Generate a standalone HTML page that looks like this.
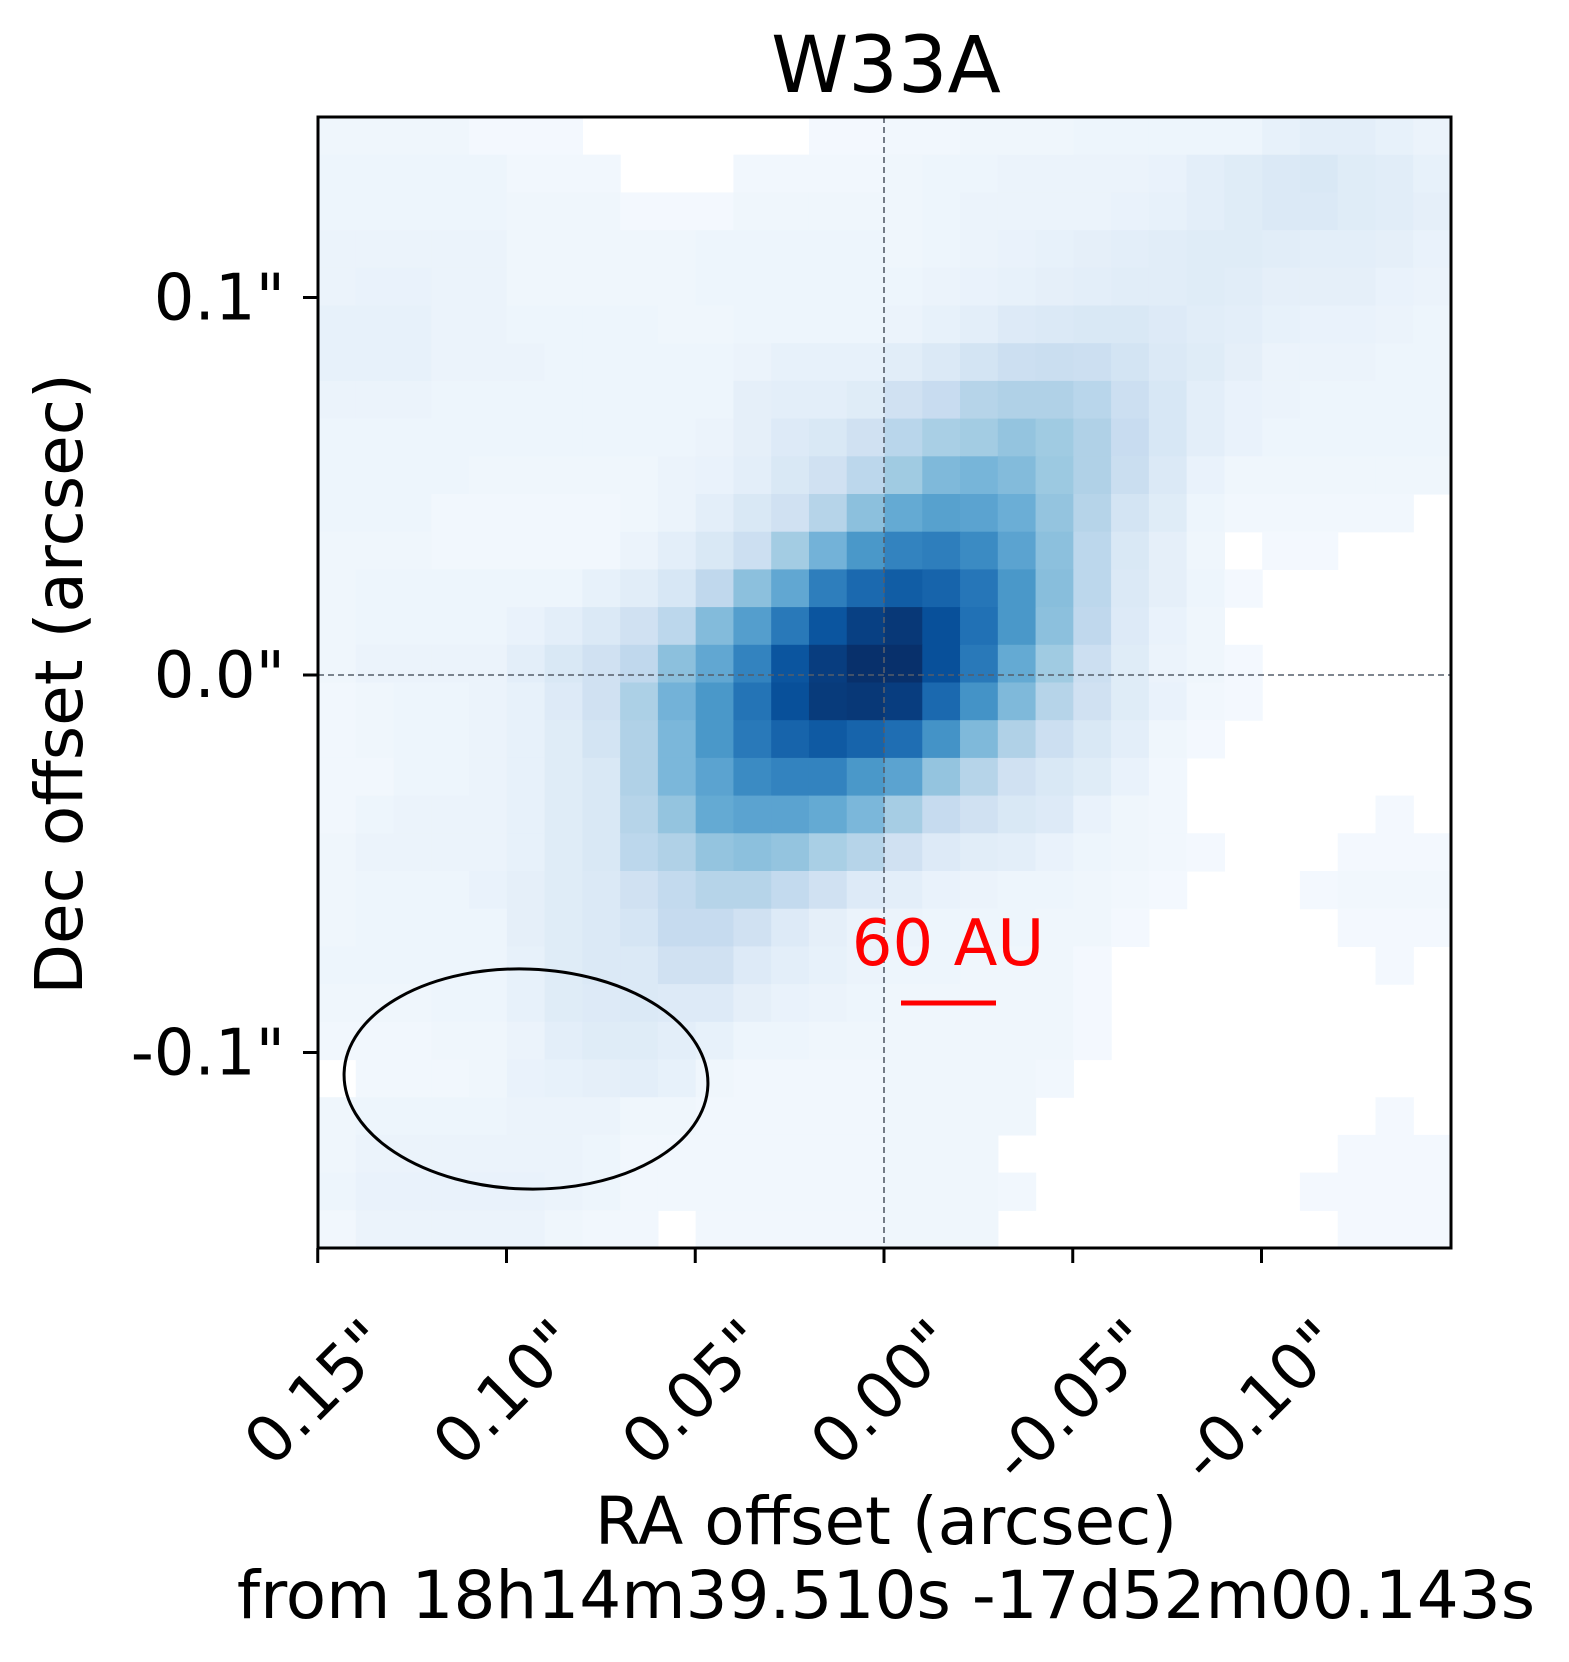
<!DOCTYPE html>
<html><head><meta charset="utf-8"><style>
html,body{margin:0;padding:0;background:#fff;}
svg{display:block;font-family:"DejaVu Sans","Liberation Sans",sans-serif;}
</style></head><body>
<svg id="chart" width="1569" height="1662" viewBox="0 0 1569 1662" xmlns="http://www.w3.org/2000/svg">
<g id="cells"></g>
<line x1="884" y1="117" x2="884" y2="1248" stroke="#555e6a" stroke-width="1.6" stroke-dasharray="6,4"/>
<line x1="318" y1="675" x2="1451" y2="675" stroke="#555e6a" stroke-width="1.6" stroke-dasharray="6,4"/>
<ellipse cx="526" cy="1079" rx="182" ry="110" transform="rotate(2 526 1079)" fill="none" stroke="#000" stroke-width="3"/>
<text x="948" y="965" font-size="64" fill="#ff0000" text-anchor="middle">60 AU</text>
<line x1="901" y1="1003" x2="996" y2="1003" stroke="#ff0000" stroke-width="5"/>
<rect x="318" y="117" width="1133" height="1131" fill="none" stroke="#000" stroke-width="3"/>
<g id="xticks"></g>
<g id="yticks"></g>
<text x="886" y="92" font-size="78" text-anchor="middle">W33A</text>
<text x="886" y="1544" font-size="66" text-anchor="middle">RA offset (arcsec)</text>
<text x="886" y="1618" font-size="66" text-anchor="middle">from 18h14m39.510s -17d52m00.143s</text>
<text x="0" y="0" font-size="66" text-anchor="middle" transform="translate(82 684) rotate(-90)">Dec offset (arcsec)</text>
</svg>
<script>
const xTickValues = [0.15, 0.10, 0.05, 0.00, -0.05, -0.10];
const xTickLabels = ['0.15"', '0.10"', '0.05"', '0.00"', '-0.05"', '-0.10"'];
const yTickValues = [0.1, 0.0, -0.1];
const yTickLabels = ['0.1"', '0.0"', '-0.1"'];
const N = null;
const row00 = [0.04,0.04,0.04,0.04,0.02,0.02,0.02,N,N,N,N,N,N,0.02,0.02,0.03,0.03,0.04,0.04,0.04,0.05,0.05,0.05,0.05,0.05,0.08,0.1,0.1,0.08,0.06];
const row01 = [0.05,0.05,0.05,0.05,0.05,0.03,0.03,0.03,N,N,N,0.03,0.03,0.03,0.03,0.04,0.05,0.05,0.06,0.06,0.06,0.06,0.07,0.1,0.12,0.14,0.15,0.12,0.11,0.08];
const row02 = [0.05,0.05,0.05,0.05,0.05,0.04,0.04,0.04,0.02,0.02,0.02,0.04,0.04,0.04,0.04,0.04,0.05,0.06,0.06,0.06,0.06,0.07,0.08,0.1,0.12,0.14,0.14,0.12,0.11,0.09];
const row03 = [0.06,0.06,0.06,0.06,0.06,0.04,0.04,0.04,0.04,0.04,0.05,0.05,0.05,0.05,0.05,0.04,0.05,0.06,0.07,0.08,0.09,0.1,0.11,0.12,0.12,0.11,0.1,0.1,0.09,0.07];
const row04 = [0.06,0.07,0.07,0.06,0.06,0.04,0.04,0.04,0.04,0.04,0.05,0.05,0.05,0.05,0.05,0.05,0.06,0.07,0.08,0.09,0.1,0.11,0.11,0.12,0.11,0.09,0.09,0.09,0.07,0.06];
const row05 = [0.08,0.08,0.08,0.06,0.06,0.05,0.05,0.05,0.05,0.04,0.04,0.05,0.05,0.05,0.05,0.06,0.08,0.1,0.13,0.14,0.15,0.15,0.13,0.11,0.1,0.08,0.07,0.07,0.06,0.05];
const row06 = [0.08,0.08,0.08,0.06,0.06,0.06,0.05,0.05,0.05,0.05,0.05,0.06,0.08,0.08,0.08,0.11,0.14,0.18,0.22,0.23,0.22,0.18,0.14,0.12,0.09,0.06,0.06,0.06,0.05,0.05];
const row07 = [0.06,0.06,0.06,0.05,0.05,0.05,0.05,0.05,0.05,0.05,0.05,0.09,0.1,0.1,0.12,0.2,0.24,0.3,0.32,0.32,0.29,0.22,0.16,0.1,0.07,0.06,0.05,0.05,0.05,0.05];
const row08 = [0.05,0.05,0.05,0.05,0.05,0.05,0.05,0.05,0.05,0.05,0.06,0.09,0.13,0.15,0.2,0.29,0.34,0.36,0.4,0.37,0.32,0.24,0.16,0.1,0.07,0.05,0.05,0.05,0.05,0.05];
const row09 = [0.05,0.05,0.05,0.05,0.04,0.04,0.04,0.04,0.04,0.06,0.07,0.1,0.15,0.2,0.28,0.37,0.45,0.47,0.44,0.38,0.32,0.23,0.14,0.07,0.04,0.04,0.04,0.04,0.04,0.04];
const row10 = [0.05,0.05,0.05,0.03,0.03,0.03,0.03,0.03,0.04,0.06,0.1,0.15,0.2,0.3,0.42,0.52,0.56,0.55,0.5,0.4,0.3,0.18,0.12,0.05,0.03,0.03,0.03,0.03,0.03,N];
const row11 = [0.04,0.04,0.04,0.03,0.03,0.03,0.03,0.03,0.06,0.1,0.15,0.22,0.36,0.48,0.6,0.68,0.7,0.65,0.55,0.42,0.28,0.15,0.09,0.04,N,0.02,0.02,N,N,N];
const row12 = [0.04,0.05,0.05,0.05,0.05,0.05,0.05,0.08,0.11,0.16,0.27,0.42,0.53,0.7,0.78,0.83,0.8,0.73,0.6,0.43,0.28,0.14,0.09,0.05,0.02,N,N,N,N,N];
const row13 = [0.04,0.05,0.05,0.05,0.05,0.07,0.1,0.14,0.2,0.28,0.44,0.57,0.72,0.86,0.94,0.97,0.88,0.75,0.6,0.42,0.27,0.13,0.07,0.04,N,N,N,N,N,N];
const row14 = [0.04,0.06,0.06,0.06,0.06,0.1,0.15,0.2,0.27,0.42,0.53,0.68,0.86,0.95,1.0,1.0,0.88,0.72,0.52,0.37,0.22,0.12,0.06,0.04,0.02,N,N,N,N,N];
const row15 = [0.03,0.04,0.05,0.05,0.06,0.08,0.13,0.2,0.33,0.48,0.6,0.74,0.88,0.96,0.97,0.95,0.78,0.62,0.45,0.3,0.2,0.12,0.07,0.03,0.02,N,N,N,N,N];
const row16 = [0.03,0.04,0.05,0.05,0.06,0.08,0.12,0.18,0.32,0.46,0.6,0.72,0.8,0.84,0.8,0.76,0.62,0.45,0.32,0.22,0.15,0.1,0.04,0.02,N,N,N,N,N,N];
const row17 = [0.03,0.03,0.05,0.05,0.06,0.08,0.12,0.15,0.32,0.46,0.55,0.65,0.68,0.68,0.6,0.55,0.4,0.3,0.2,0.15,0.12,0.07,0.03,N,N,N,N,N,N,N];
const row18 = [0.03,0.05,0.06,0.06,0.06,0.08,0.12,0.15,0.3,0.4,0.52,0.55,0.55,0.52,0.46,0.35,0.25,0.2,0.15,0.13,0.07,0.04,0.03,N,N,N,N,N,0.02,N];
const row19 = [0.04,0.06,0.06,0.06,0.06,0.08,0.12,0.15,0.28,0.32,0.4,0.42,0.4,0.34,0.3,0.2,0.13,0.11,0.1,0.07,0.05,0.04,0.03,0.02,N,N,N,0.02,0.02,0.02];
const row20 = [0.04,0.05,0.05,0.05,0.07,0.09,0.12,0.14,0.2,0.26,0.3,0.3,0.26,0.2,0.13,0.1,0.07,0.06,0.05,0.05,0.04,0.03,0.02,N,N,N,0.02,0.03,0.03,0.03];
const row21 = [0.04,0.05,0.05,0.05,0.05,0.09,0.12,0.14,0.17,0.25,0.25,0.2,0.13,0.09,0.06,0.06,0.05,0.05,0.05,0.04,0.04,0.02,N,N,N,N,N,0.02,0.02,0.02];
const row22 = [0.05,0.05,0.05,0.05,0.05,0.08,0.12,0.14,0.14,0.2,0.2,0.13,0.1,0.08,0.06,0.05,0.05,0.04,0.04,0.04,0.02,N,N,N,N,N,N,N,0.02,N];
const row23 = [0.04,0.04,0.04,0.05,0.05,0.08,0.12,0.13,0.14,0.13,0.13,0.09,0.07,0.06,0.05,0.04,0.04,0.04,0.04,0.04,0.02,N,N,N,N,N,N,N,N,N];
const row24 = [0.03,0.03,0.03,0.04,0.04,0.06,0.1,0.12,0.12,0.1,0.08,0.05,0.05,0.04,0.04,0.04,0.04,0.04,0.04,0.04,0.02,N,N,N,N,N,N,N,N,N];
const row25 = [N,0.03,0.03,0.03,0.04,0.07,0.08,0.09,0.1,0.08,0.04,0.03,0.03,0.03,0.03,0.04,0.04,0.04,0.04,0.03,N,N,N,N,N,N,N,N,N,N];
const row26 = [0.04,0.05,0.05,0.05,0.05,0.06,0.06,0.06,0.04,0.04,0.03,0.03,0.03,0.03,0.03,0.04,0.04,0.04,0.04,N,N,N,N,N,N,N,N,N,0.02,N];
const row27 = [0.04,0.06,0.06,0.06,0.06,0.06,0.06,0.05,0.03,0.03,0.03,0.03,0.03,0.03,0.03,0.04,0.04,0.04,N,N,N,N,N,N,N,N,N,0.02,0.02,0.02];
const row28 = [0.05,0.07,0.07,0.07,0.07,0.07,0.06,0.05,0.03,0.03,0.03,0.03,0.03,0.03,0.03,0.04,0.04,0.04,0.03,N,N,N,N,N,N,N,0.02,0.02,0.02,0.02];
const row29 = [0.03,0.06,0.06,0.06,0.06,0.06,0.04,0.03,0.03,N,0.03,0.03,0.03,0.03,0.03,0.04,0.04,0.04,N,N,N,N,N,N,N,N,N,0.02,0.02,0.02];
const fluxRows = [row00,row01,row02,row03,row04,row05,row06,row07,row08,row09,row10,row11,row12,row13,row14,row15,row16,row17,row18,row19,row20,row21,row22,row23,row24,row25,row26,row27,row28,row29];

const NS = 'http://www.w3.org/2000/svg';
const PL = 318, PT = 117, PR = 1451, PB = 1248;
const blues = [[247,251,255],[222,235,247],[198,219,239],[158,202,225],[107,174,214],[66,146,198],[33,113,181],[8,81,156],[8,48,107]];
function cmap(v){
  v = Math.max(0, Math.min(1, v));
  const p = v * 8, i = Math.min(7, Math.floor(p)), f = p - i;
  const a = blues[i], b = blues[i+1];
  return 'rgb(' + a.map((c,k)=>Math.round(c + (b[k]-c)*f)).join(',') + ')';
}
function xPos(v){ return 884 - v * 3775; }
function yPos(v){ return 675 - v * 3775; }
const nRows = fluxRows.length, nCols = fluxRows[0].length;
const cw = (PR - PL) / nCols, ch = (PB - PT) / nRows;
const cells = document.getElementById('cells');
fluxRows.forEach((row, r) => {
  row.forEach((v, c) => {
    if (v === null) return;
    const rect = document.createElementNS(NS, 'rect');
    rect.setAttribute('x', (PL + c * cw).toFixed(2));
    rect.setAttribute('y', (PT + r * ch).toFixed(2));
    rect.setAttribute('width', (cw + 0.6).toFixed(2));
    rect.setAttribute('height', (ch + 0.6).toFixed(2));
    rect.setAttribute('fill', cmap(v));
    
    
    cells.appendChild(rect);
  });
});
const xg = document.getElementById('xticks');
xTickValues.forEach((v, i) => {
  const x = xPos(v);
  const t = document.createElementNS(NS, 'line');
  t.setAttribute('x1', x); t.setAttribute('x2', x);
  t.setAttribute('y1', PB); t.setAttribute('y2', PB + 15);
  t.setAttribute('stroke', '#000'); t.setAttribute('stroke-width', '3');
  
  
  xg.appendChild(t);
  const tx = document.createElementNS(NS, 'text');
  tx.textContent = xTickLabels[i];
  tx.setAttribute('font-size', '64');
  tx.setAttribute('text-anchor', 'middle');
  tx.setAttribute('dominant-baseline', 'central');
  
  
  xg.appendChild(tx);
  const w = tx.getComputedTextLength();
  const h = 64;
  const cy = PB + 62 + (w + h) / (2 * Math.SQRT2);
  tx.setAttribute('x', x); tx.setAttribute('y', cy);
  tx.setAttribute('transform', 'rotate(-45 ' + x + ' ' + cy + ')');
});
const yg = document.getElementById('yticks');
yTickValues.forEach((v, i) => {
  const y = yPos(v);
  const t = document.createElementNS(NS, 'line');
  t.setAttribute('x1', PL - 15); t.setAttribute('x2', PL);
  t.setAttribute('y1', y); t.setAttribute('y2', y);
  t.setAttribute('stroke', '#000'); t.setAttribute('stroke-width', '3');
  
  
  yg.appendChild(t);
  const tx = document.createElementNS(NS, 'text');
  tx.textContent = yTickLabels[i];
  tx.setAttribute('x', 285);
  tx.setAttribute('y', y + 22);
  tx.setAttribute('font-size', '64');
  tx.setAttribute('text-anchor', 'end');
  
  
  yg.appendChild(tx);
});
</script>
</body></html>
